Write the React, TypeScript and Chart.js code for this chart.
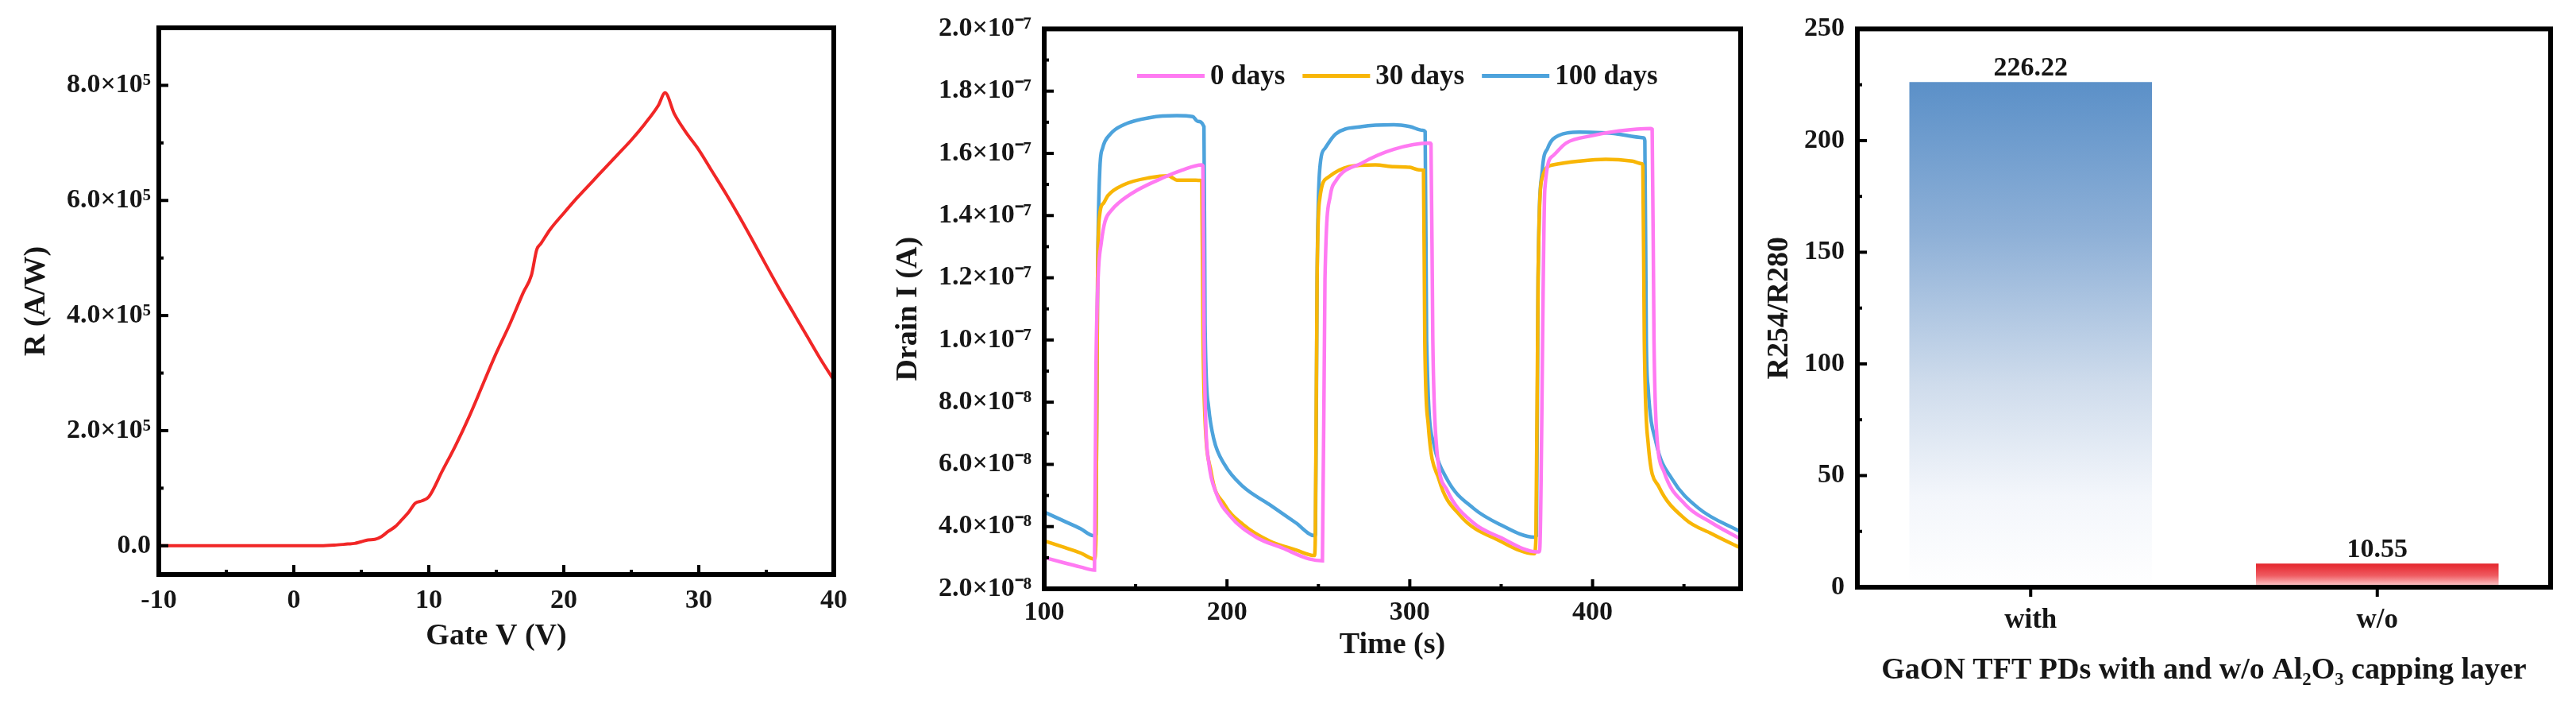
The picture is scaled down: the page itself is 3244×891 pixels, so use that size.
import { useEffect, useRef } from 'react'
import { Chart, registerables } from 'chart.js'
import type { ChartConfiguration, Plugin } from 'chart.js'

Chart.register(...registerables)

const SERIF = '"Liberation Serif", "Times New Roman", Times, serif'
const INK = '#161616'

// Left panel: responsivity vs gate voltage
const gateV = [
  -10, -8, -6, -4, -2, 0, 2, 3, 4, 4.5, 5, 5.5, 6, 6.5, 7, 7.5, 8, 8.5, 9, 9.5, 10, 11, 12, 13, 14, 15,
  16, 17, 17.6, 18, 18.3, 19, 20, 21, 22, 23, 24, 25, 26, 27, 27.5, 28.2, 29, 30, 31, 32, 33, 34, 35,
  36, 37, 38, 39, 40,
]
const responsivity = [
  0, 0, 0, 0, 0, 0, 0, 1000, 3000, 4000, 7000, 10000, 11000, 16000, 25000, 33000, 45000, 58000, 74000,
  78000, 85000, 130000, 175000, 225000, 280000, 335000, 385000, 440000, 470000, 515000, 525000, 550000,
  578000, 605000, 630000, 655000, 680000, 705000, 733000, 765000, 787000, 750000, 720000, 688000, 650000,
  612000, 572000, 530000, 487000, 445000, 405000, 365000, 325000, 288000,
]
const responsivityTicks = [0, 200000, 400000, 600000, 800000]

// Middle panel: transient drain current, [time (s), current (x10^-8 A)]
const days0: [number, number][] = [
  [100, 3.01], [110, 2.85], [120, 2.7], [127.5, 2.6], [128.3, 9.0], [129.5, 12.0], [131.2, 13.12],
  [133.3, 13.82], [136.5, 14.15], [140.6, 14.4], [150.7, 14.81], [165.2, 15.22], [175.4, 15.46],
  [186.2, 15.63], [186.8, 15.6], [187.5, 10.0], [188.4, 7.28], [189.9, 6.11], [194.2, 5.06],
  [201.4, 4.36], [215.9, 3.66], [230.4, 3.31], [244.9, 2.96], [252.2, 2.9], [253.6, 11.95],
  [256.5, 14.64], [259.4, 15.1], [273.9, 15.69], [291.3, 16.13], [310.9, 16.33], [311.6, 16.3],
  [312.6, 10.0], [314.5, 6.69], [320.3, 5.18], [334.8, 4.12], [349.3, 3.66], [369.6, 3.19], [371, 3.2],
  [373.9, 14.87], [378.3, 15.92], [385.5, 16.33], [400, 16.57], [414.5, 16.72], [431.9, 16.8],
  [432.6, 16.78], [433.6, 10.0], [434.8, 7.28], [439.1, 5.76], [450.7, 4.71], [465.2, 4.12], [481, 3.6],
]
const days30: [number, number][] = [
  [100, 3.54], [110, 3.35], [120, 3.15], [127.5, 2.96], [128.3, 3.6], [129.2, 12.0], [130.4, 14.05],
  [132.5, 14.4], [134.8, 14.64], [143.5, 14.99], [158, 15.22], [168.1, 15.28], [170, 15.22],
  [172.5, 15.14], [180, 15.14], [185.5, 15.13], [186.2, 15.1], [186.9, 10.0], [187.7, 7.86],
  [191.3, 5.76], [198.6, 4.71], [208.7, 4.07], [223.2, 3.54], [237.7, 3.25], [247.8, 3.07],
  [248.3, 3.6], [249.3, 12.0], [250.7, 14.52], [255.1, 15.22], [266.7, 15.57], [281.2, 15.63],
  [291.3, 15.57], [300, 15.55], [305, 15.47], [307.5, 15.46], [308.2, 10.0], [310.1, 7.28],
  [315.9, 5.53], [327.5, 4.36], [349.3, 3.54], [368.1, 3.13], [369, 3.6], [370.2, 12.0], [372.5, 15.22],
  [378.3, 15.63], [392.8, 15.75], [407.2, 15.81], [421.7, 15.75], [426.8, 15.67], [427.5, 15.6],
  [428.3, 10.0], [430.4, 6.69], [436.2, 5.29], [450.7, 4.24], [465.2, 3.77], [481, 3.31],
]
const days100: [number, number][] = [
  [100, 4.47], [110, 4.2], [120, 3.93], [126.8, 3.71], [128.3, 3.75], [129.2, 12.0], [130.4, 15.46],
  [131.9, 16.16], [136.2, 16.62], [143.5, 16.92], [158, 17.15], [172.5, 17.21], [181.2, 17.18],
  [184, 17.03], [187.4, 16.86], [188, 10.5], [189.9, 7.86], [192.8, 6.81], [198.6, 6.0], [208.7, 5.29],
  [223.2, 4.71], [237.7, 4.12], [247.8, 3.71], [248.4, 3.75], [249.3, 12.0], [250.7, 15.46],
  [253.6, 16.16], [259.4, 16.62], [273.9, 16.86], [291.3, 16.92], [300, 16.86], [307.2, 16.74],
  [308.4, 16.7], [309.2, 10.0], [313, 6.69], [320.3, 5.53], [334.8, 4.59], [349.3, 4.07], [368.1, 3.66],
  [369.3, 3.7], [370.2, 12.0], [372.5, 15.46], [375.4, 16.16], [381.2, 16.57], [392.8, 16.68],
  [407.2, 16.66], [428, 16.5], [428.6, 16.4], [429.4, 10.0], [430.4, 8.45], [434.8, 6.69],
  [443.5, 5.53], [458, 4.59], [481, 3.83],
]
const dayLabels = ['0 days', '30 days', '100 days']
const dayColors = ['#ff7af2', '#f8b606', '#4da3dc']

// Right panel: R254/R280 ratio
const capping = ['with', 'w/o']
const ratio = [226.22, 10.55]

const boldFont = (size: number) => ({ family: SERIF, size, weight: 'bold' as const })

// black box round the plot area, with inward ticks on the left and bottom
const frameTicks: Plugin = {
  id: 'frameTicks',
  afterDraw(chart, _args, opts: any) {
    const { ctx, chartArea: a } = chart
    const xs: any = chart.scales.x
    const ys: any = chart.scales.y
    const seg = (x1: number, y1: number, x2: number, y2: number) => {
      ctx.beginPath()
      ctx.moveTo(x1, y1)
      ctx.lineTo(x2, y2)
      ctx.stroke()
    }
    ctx.save()
    ctx.strokeStyle = '#000'
    ctx.lineWidth = 4

    const yv = ys.ticks.map((t: any) => t.value)
    const ystep = yv[1] - yv[0]
    yv.forEach((v: number) => {
      const p = ys.getPixelForValue(v)
      seg(a.left, p, a.left + 12, p)
    })
    for (let v = yv[0] - ystep / 2; v < ys.max; v += ystep) {
      if (v <= ys.min) continue
      const p = ys.getPixelForValue(v)
      seg(a.left, p, a.left + 6, p)
    }

    if (opts.category) {
      xs.ticks.forEach((_t: any, i: number) => {
        const p = xs.getPixelForTick(i)
        seg(p, a.bottom, p, a.bottom + 12)
      })
    } else {
      const xv = xs.ticks.map((t: any) => t.value)
      const xstep = xv[1] - xv[0]
      xv.forEach((v: number) => {
        const p = xs.getPixelForValue(v)
        seg(p, a.bottom, p, a.bottom - 12)
      })
      for (let v = xv[0] - xstep / 2; v < xs.max; v += xstep) {
        if (v <= xs.min) continue
        const p = xs.getPixelForValue(v)
        seg(p, a.bottom, p, a.bottom - 6)
      }
    }

    ctx.lineWidth = 6
    ctx.strokeRect(a.left, a.top, a.right - a.left, a.bottom - a.top)
    ctx.restore()
  },
}

// legend drawn inside the plot, in one row
const inlineLegend: Plugin = {
  id: 'inlineLegend',
  afterDraw(chart) {
    const { ctx, chartArea: a } = chart
    ctx.save()
    ctx.font = `bold 35px ${SERIF}`
    ctx.textBaseline = 'middle'
    let x = a.left + 117
    const y = a.top + 59
    chart.data.datasets.forEach((ds) => {
      ctx.strokeStyle = ds.borderColor as string
      ctx.lineWidth = 5
      ctx.beginPath()
      ctx.moveTo(x, y)
      ctx.lineTo(x + 85, y)
      ctx.stroke()
      x += 92
      ctx.fillStyle = INK
      ctx.fillText(ds.label as string, x, y + 2)
      x += ctx.measureText(ds.label as string).width + 22
    })
    ctx.restore()
  },
}

const barValues: Plugin = {
  id: 'barValues',
  afterDatasetsDraw(chart) {
    const { ctx } = chart
    const meta = chart.getDatasetMeta(0)
    ctx.save()
    ctx.font = `bold 34px ${SERIF}`
    ctx.fillStyle = INK
    ctx.textAlign = 'center'
    ctx.textBaseline = 'alphabetic'
    meta.data.forEach((bar: any, i) => {
      ctx.fillText(ratio[i].toFixed(2), bar.x, bar.y - 8)
    })
    ctx.restore()
  },
}

const gradientStops = [
  [[0, '#5b90c8'], [0.3, '#8eb0d7'], [0.6, '#cfdcec'], [0.82, '#f3f6fb'], [1, '#ffffff']],
  [[0, '#e5252c'], [0.5, '#ef5a60'], [1, '#fcd8d9']],
] as [number, string][][]

const linearAxis = (title: string, titlePad: any, extra: any) => ({
  type: 'linear' as const,
  grid: { display: false, drawTicks: false },
  border: { display: false },
  title: { display: true, text: title, color: INK, font: boldFont(38), padding: titlePad },
  ...extra,
})

const responsivityConfig = (): ChartConfiguration<'line'> => ({
  type: 'line',
  data: {
    datasets: [
      {
        label: 'R',
        data: gateV.map((v, i) => ({ x: v, y: responsivity[i] })),
        borderColor: '#f12626',
        borderWidth: 4,
        pointRadius: 0,
        cubicInterpolationMode: 'monotone',
      },
    ],
  },
  options: {
    responsive: true,
    maintainAspectRatio: false,
    animation: false,
    events: [],
    layout: { padding: { top: 35, right: 50, left: 0, bottom: 0 } },
    plugins: { legend: { display: false }, tooltip: { enabled: false }, frameTicks: {} } as any,
    scales: {
      x: linearAxis('Gate V (V)', { top: 0, bottom: 67 }, {
        min: -10,
        max: 40,
        ticks: {
          color: INK, font: boldFont(34), padding: 13, maxRotation: 0, includeBounds: false, stepSize: 10,
          callback: (v: any) => String(v),
        },
        afterFit: (s: any) => { s.height = 168 },
      }),
      y: linearAxis('R (A/W)', { top: 23, bottom: 0 }, {
        min: -50000,
        max: 900000,
        ticks: {
          color: INK, font: boldFont(34), padding: 10,
          callback: (v: any) => (v === 0 ? '0.0' : `${(v / 1e5).toFixed(1)}×10⁵`),
        },
        afterBuildTicks: (s: any) => { s.ticks = responsivityTicks.map((v) => ({ value: v })) },
        afterFit: (s: any) => { s.width = 200 },
      }),
    },
  },
  plugins: [frameTicks],
})

const drainConfig = (): ChartConfiguration<'line'> => ({
  type: 'line',
  data: {
    datasets: [days0, days30, days100].map((series, k) => ({
      label: dayLabels[k],
      data: series.map(([t, i]) => ({ x: t, y: i })),
      borderColor: dayColors[k],
      borderWidth: 4.5,
      pointRadius: 0,
      cubicInterpolationMode: 'monotone' as const,
    })),
  },
  options: {
    responsive: true,
    maintainAspectRatio: false,
    animation: false,
    events: [],
    layout: { padding: { top: 35, right: 8, left: 0, bottom: 0 } },
    plugins: { legend: { display: false }, tooltip: { enabled: false }, frameTicks: {} } as any,
    scales: {
      x: linearAxis('Time (s)', { top: 0, bottom: 56 }, {
        min: 100,
        max: 481,
        ticks: { color: INK, font: boldFont(34), padding: 10, maxRotation: 0, includeBounds: false, stepSize: 100 },
        afterFit: (s: any) => { s.height = 150 },
      }),
      y: linearAxis('Drain I (A)', { top: 21, bottom: 0 }, {
        min: 2,
        max: 20,
        ticks: {
          color: INK, font: boldFont(34), padding: 16, includeBounds: false, stepSize: 2,
          callback: (v: any) => (v >= 10 ? `${(v / 10).toFixed(1)}×10⁻⁷` : `${Number(v).toFixed(1)}×10⁻⁸`),
        },
        afterFit: (s: any) => { s.width = 215 },
      }),
    },
  },
  plugins: [frameTicks, inlineLegend],
})

const ratioConfig = (): ChartConfiguration<'bar'> => ({
  type: 'bar',
  data: {
    labels: capping,
    datasets: [
      {
        label: 'R254/R280',
        data: ratio,
        barPercentage: 0.7,
        categoryPercentage: 1,
        backgroundColor: (c: any) => {
          const { chart, dataIndex } = c
          const area = chart.chartArea
          if (!area) return gradientStops[dataIndex][0][1]
          const top = chart.scales.y.getPixelForValue(ratio[dataIndex])
          const g = chart.ctx.createLinearGradient(0, top, 0, area.bottom)
          gradientStops[dataIndex].forEach(([o, col]) => g.addColorStop(o, col))
          return g
        },
      },
    ],
  },
  options: {
    responsive: true,
    maintainAspectRatio: false,
    animation: false,
    events: [],
    layout: { padding: { top: 35, right: 32, left: 0, bottom: 0 } },
    plugins: { legend: { display: false }, tooltip: { enabled: false }, frameTicks: { category: true } } as any,
    scales: {
      x: {
        type: 'category',
        grid: { display: false, drawTicks: false },
        border: { display: false },
        title: {
          display: true,
          text: 'GaON TFT PDs with and w/o Al₂O₃ capping layer',
          color: INK,
          font: boldFont(38),
          padding: { top: 0, bottom: 24 },
        },
        ticks: { color: INK, font: boldFont(35), padding: 21, maxRotation: 0 },
        afterFit: (s: any) => { s.height = 152 },
      },
      y: linearAxis('R254/R280', { top: 18, bottom: 0 }, {
        min: 0,
        max: 250,
        ticks: { color: INK, font: boldFont(34), padding: 16, includeBounds: false, stepSize: 50 },
        afterFit: (s: any) => { s.width = 139 },
      }),
    },
  },
  plugins: [frameTicks, barValues],
})

function ChartPanel({ left, width, config }: { left: number; width: number; config: () => ChartConfiguration<any> }) {
  const canvasRef = useRef<HTMLCanvasElement>(null)

  useEffect(() => {
    if (!canvasRef.current) return
    const chart = new Chart(canvasRef.current, config())
    return () => chart.destroy()
  }, [config])

  return (
    <div style={{ position: 'absolute', left, top: 0, width, height: 891 }}>
      <canvas ref={canvasRef} />
    </div>
  )
}

export default function App() {
  return (
    <div style={{ position: 'absolute', left: 0, top: 0, width: 3244, height: 891, background: '#fff', overflow: 'hidden' }}>
      <ChartPanel left={0} width={1100} config={responsivityConfig} />
      <ChartPanel left={1100} width={1100} config={drainConfig} />
      <ChartPanel left={2200} width={1044} config={ratioConfig} />
    </div>
  )
}
